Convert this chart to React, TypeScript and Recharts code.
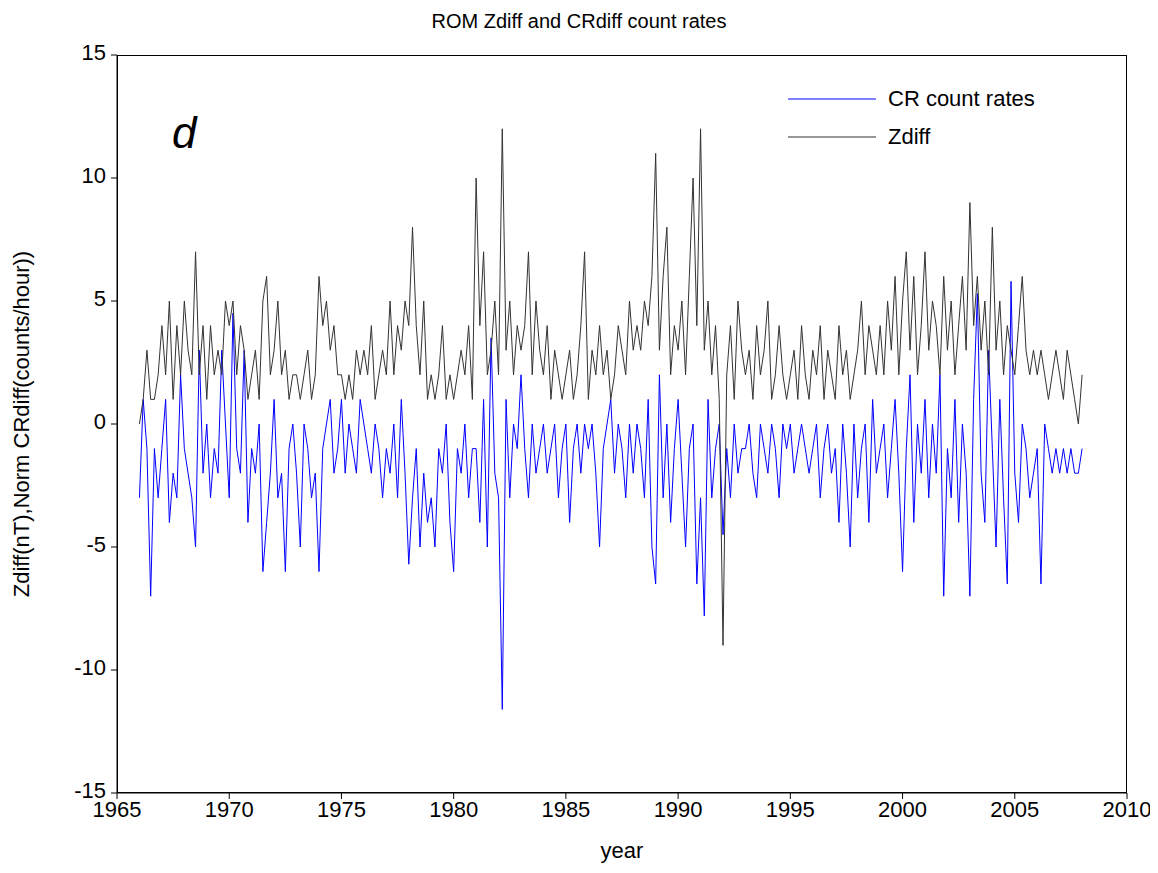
import React from "react";
import { LineChart, Line, XAxis, YAxis } from "recharts";

// bi-monthly samples starting 1966.0
const zdiff = [
  0, 1, 3, 1, 1, 2, 4, 2, 5, 1, 4, 2, 5, 3, 2, 7, 2, 4, 1, 4, 2, 3, 2, 5,
  4, 5, 2, 4, 3, 1, 2, 3, 1, 5, 6, 2, 3, 5, 2, 3, 1, 2, 2, 1, 2, 3, 1, 2,
  6, 4, 5, 3, 4, 2, 2, 1, 2, 1, 3, 2, 3, 2, 4, 1, 2, 3, 2, 5, 2, 4, 3, 5,
  4, 8, 4, 2, 5, 1, 2, 1, 2, 4, 1, 2, 1, 2, 3, 2, 4, 1, 10, 4, 7, 2, 3, 5,
  2, 12, 3, 5, 2, 4, 3, 4, 7, 2, 5, 3, 2, 4, 1, 3, 2, 1, 2, 3, 1, 2, 4, 7,
  1, 3, 2, 4, 2, 3, 1, 2, 4, 3, 2, 5, 3, 4, 3, 5, 4, 6, 11, 3, 6, 8, 2, 4,
  3, 5, 2, 6, 10, 4, 12, 3, 5, 2, 4, 1, -9, 2, 4, 1, 5, 3, 2, 3, 1, 4, 2, 3,
  5, 1, 2, 4, 2, 1, 2, 3, 1, 4, 2, 1, 3, 2, 4, 1, 3, 2, 1, 4, 2, 3, 1, 2,
  3, 5, 2, 4, 3, 2, 4, 2, 5, 3, 6, 2, 5, 7, 3, 6, 2, 4, 7, 3, 5, 4, 2, 6,
  3, 5, 2, 4, 6, 3, 9, 4, 6, 3, 5, 2, 8, 3, 5, 2, 4, 3, 2, 4, 6, 3, 2, 3,
  2, 3, 2, 1, 2, 3, 2, 1, 3, 2, 1, 0, 2,
];

const crRates = [
  -3, 1, -1, -7, -1, -3, -1, 1, -4, -2, -3, 2, -1, -2, -3, -5, 3, -2, 0, -3, -1, -2, 3, 0,
  -3, 4.5, -1, -2, 3, -4, -1, -2, 0, -6, -4, -2, 1, -3, -2, -6, -1, 0, -2, -5, 0, -1, -3, -2,
  -6, -1, 0, 1, -2, -1, 1, -2, 0, -1, -2, 1, 0, -1, -2, 0, -1, -3, -1, -2, 0, -3, 1, -2,
  -5.7, -3, -1, -5, -2, -4, -3, -5, -1, -2, 0, -4, -6, -1, -2, 0, -3, -1, -1, -4, 1, -5, 3.5, -2,
  -3, -11.6, 1, -3, 0, -1, 2, -1, -3, 0, -2, -1, 0, -2, -1, 0, -3, -1, 0, -4, -1, 0, -2, 0,
  -1, 0, -2, -5, -1, 0, 1, -2, 0, -1, -3, 0, -2, 0, -1, -3, 1, -5, -6.5, 2, -3, 0, -4, -1,
  1, -2, -5, -1, 0, -6.5, -3, -7.8, 1, -3, -1, 0, -4.5, -1, -3, 0, -2, -1, -1, 0, -2, -3, 0, -1,
  -2, 0, -1, -3, 0, -1, 0, -2, -1, 0, -1, -2, -1, 0, -3, -1, 0, -2, -1, -4, 0, -2, -5, 0,
  -3, -1, 0, -4, 1, -2, -1, 0, -3, -1, 1, -2, -6, -1, 2, -4, 0, -2, 1, -3, 0, -2, 2, -7,
  -1, -3, 1, -4, 0, -2, -7, 1, 5.3, -2, -4, 3, -1, -5, 1, -3, -6.5, 5.8, -2, -4, 0, -1, -3, -2,
  -1, -6.5, 0, -1, -2, -1, -2, -1, -2, -1, -2, -2, -1,
];

const xTicks = [1965, 1970, 1975, 1980, 1985, 1990, 1995, 2000, 2005, 2010];
const yTicks = [-15, -10, -5, 0, 5, 10, 15];

const data = zdiff.map((z, i) => ({ year: 1966 + i / 6, z, cr: crRates[i] }));

const font = "'Liberation Sans', Arial, sans-serif";
const tickStyle = { fontSize: 22, fill: "#000", fontFamily: font };

export default function App() {
  return (
    <div style={{ position: "relative", width: 1158, height: 873, margin: -8, background: "#fff", fontFamily: font }}>
      <LineChart width={1158} height={873} data={data} margin={{ top: 55, right: 31, left: 57, bottom: 50 }}>
        <XAxis dataKey="year" type="number" domain={[1965, 2010]} ticks={xTicks} tick={tickStyle}
          stroke="#000" tickSize={6} height={30} interval={0} />
        <YAxis type="number" domain={[-15, 15]} ticks={yTicks} tick={{ ...tickStyle, dx: -3, dy: -3 }} stroke="#000"
          tickSize={6} width={60} interval={0} />
        <Line dataKey="cr" stroke="#0000ff" strokeWidth={1} dot={false} type="linear" isAnimationActive={false} />
        <Line dataKey="z" stroke="#333" strokeWidth={1} dot={false} type="linear" isAnimationActive={false} />
      </LineChart>
      <div style={{ position: "absolute", left: 117, top: 55, width: 1010, height: 738, border: "1px solid #000",
        boxSizing: "border-box", pointerEvents: "none" }} />
      <div style={{ position: "absolute", top: 10, left: 0, width: 1158, textAlign: "center", fontSize: 20 }}>
        ROM Zdiff and CRdiff count rates
      </div>
      <div style={{ position: "absolute", top: 838, left: 117, width: 1010, textAlign: "center", fontSize: 22 }}>
        year
      </div>
      <div style={{ position: "absolute", left: 22, top: 424, transform: "translate(-50%,-50%) rotate(-90deg)",
        whiteSpace: "nowrap", fontSize: 22 }}>
        Zdiff(nT),Norm CRdiff(counts/hour))
      </div>
      <div style={{ position: "absolute", left: 172, top: 108, fontSize: 44, fontStyle: "italic" }}>d</div>
      <div style={{ position: "absolute", left: 788, top: 80, fontSize: 22, lineHeight: "38px" }}>
        <div style={{ display: "flex", alignItems: "center" }}>
          <svg width={100} height={4}><line x1={0} x2={88} y1={2} y2={2} stroke="#0000ff" strokeWidth={1.2} /></svg>
          CR count rates
        </div>
        <div style={{ display: "flex", alignItems: "center" }}>
          <svg width={100} height={4}><line x1={0} x2={88} y1={2} y2={2} stroke="#333" strokeWidth={1.2} /></svg>
          Zdiff
        </div>
      </div>
    </div>
  );
}
